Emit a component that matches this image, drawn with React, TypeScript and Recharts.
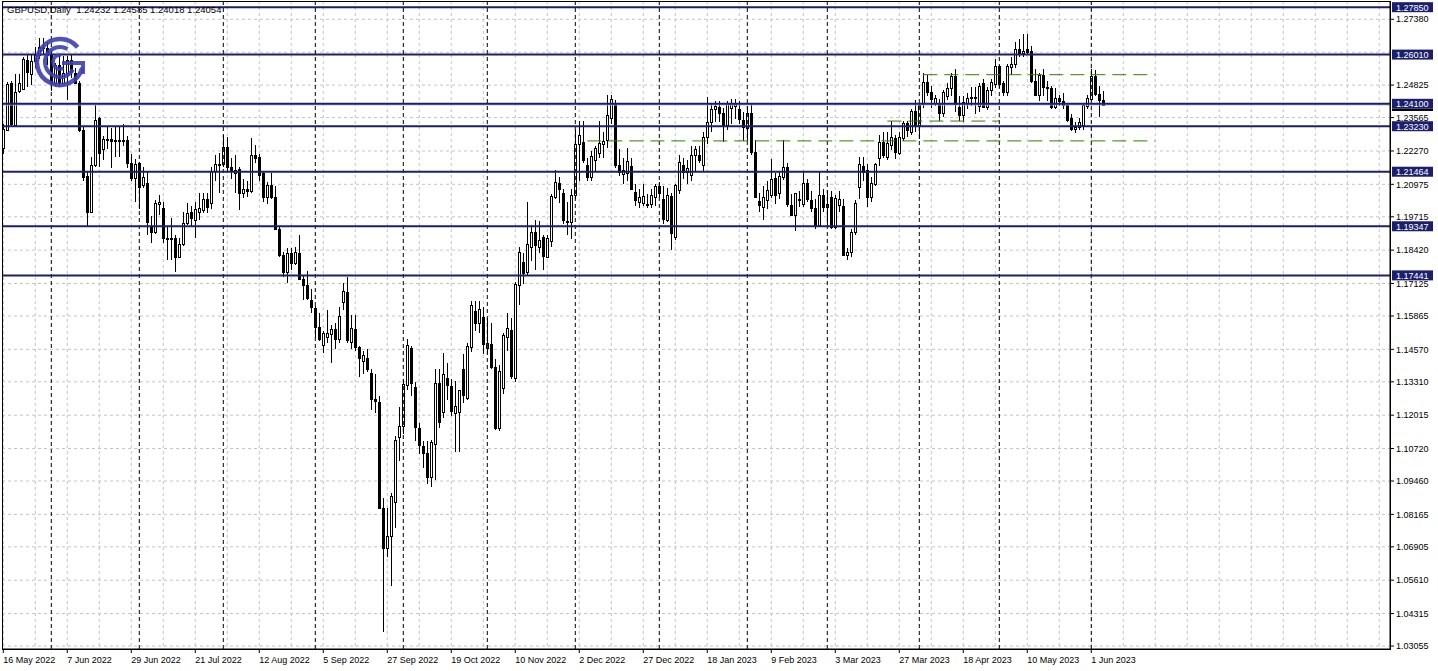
import React from 'react';
import { ComposedChart, Bar, XAxis, YAxis, CartesianGrid, ReferenceLine } from 'recharts';

// daily GBPUSD bars, [open, high, low, close]
const bars: number[][] = [
  [1.2237, 1.2330, 1.2214, 1.2314], [1.2310, 1.2495, 1.2305, 1.2486], [1.2491, 1.2497, 1.2325, 1.2331],
  [1.2327, 1.2527, 1.2320, 1.2456], [1.2459, 1.2527, 1.2450, 1.2491], [1.2469, 1.2592, 1.2465, 1.2585],
  [1.2580, 1.2600, 1.2475, 1.2535], [1.2527, 1.2598, 1.2482, 1.2576], [1.2576, 1.2630, 1.2550, 1.2600],
  [1.2600, 1.2665, 1.2585, 1.2630], [1.2630, 1.2665, 1.2600, 1.2625], [1.2625, 1.2650, 1.2560, 1.2600],
  [1.2600, 1.2610, 1.2460, 1.2490], [1.2490, 1.2570, 1.2480, 1.2560], [1.2560, 1.2600, 1.2475, 1.2490],
  [1.2490, 1.2595, 1.2485, 1.2530], [1.2530, 1.2595, 1.2425, 1.2580], [1.2580, 1.2600, 1.2510, 1.2535],
  [1.2528, 1.2550, 1.2485, 1.2490], [1.2490, 1.2500, 1.2300, 1.2307], [1.2307, 1.2320, 1.2110, 1.2126],
  [1.2129, 1.2145, 1.1931, 1.1990], [1.1990, 1.2205, 1.1985, 1.2172], [1.2172, 1.2404, 1.2165, 1.2349],
  [1.2354, 1.2360, 1.2165, 1.2220], [1.2233, 1.2285, 1.2190, 1.2272], [1.2272, 1.2325, 1.2235, 1.2275],
  [1.2275, 1.2315, 1.2160, 1.2265], [1.2265, 1.2320, 1.2205, 1.2270], [1.2270, 1.2325, 1.2205, 1.2265],
  [1.2265, 1.2330, 1.2245, 1.2270], [1.2269, 1.2285, 1.2160, 1.2180], [1.2180, 1.2215, 1.2110, 1.2121],
  [1.2121, 1.2195, 1.2030, 1.2175], [1.2180, 1.2185, 1.2000, 1.2087], [1.2095, 1.2165, 1.2085, 1.2125],
  [1.2102, 1.2150, 1.1900, 1.1950], [1.1931, 1.1975, 1.1869, 1.1912], [1.1912, 1.2035, 1.1905, 1.2024],
  [1.2020, 1.2055, 1.1980, 1.2030], [1.2005, 1.2030, 1.1870, 1.1888], [1.1888, 1.1935, 1.1805, 1.1890],
  [1.1890, 1.1965, 1.1805, 1.1885], [1.1888, 1.1900, 1.1757, 1.1815], [1.1815, 1.1890, 1.1810, 1.1865],
  [1.1865, 1.1990, 1.1860, 1.1946], [1.1948, 1.2025, 1.1940, 1.1987], [1.1990, 1.2015, 1.1935, 1.1965],
  [1.1960, 1.2030, 1.1890, 1.2000], [1.1990, 1.2065, 1.1960, 1.2005], [1.1997, 1.2065, 1.1985, 1.2040],
  [1.2040, 1.2065, 1.1985, 1.2010], [1.2024, 1.2165, 1.2000, 1.2149], [1.2149, 1.2210, 1.2110, 1.2175],
  [1.2175, 1.2218, 1.2063, 1.2178], [1.2175, 1.2288, 1.2165, 1.2243], [1.2243, 1.2280, 1.2140, 1.2165],
  [1.2165, 1.2200, 1.2120, 1.2149], [1.2140, 1.2210, 1.2065, 1.2155], [1.2156, 1.2165, 1.1997, 1.2064],
  [1.2064, 1.2120, 1.2045, 1.2079], [1.2079, 1.2110, 1.2050, 1.2072], [1.2072, 1.2276, 1.2065, 1.2211],
  [1.2211, 1.2250, 1.2180, 1.2199], [1.2203, 1.2215, 1.2110, 1.2133], [1.2141, 1.2145, 1.2030, 1.2049],
  [1.2049, 1.2105, 1.2020, 1.2094], [1.2094, 1.2140, 1.2040, 1.2049], [1.2049, 1.2090, 1.1920, 1.1926],
  [1.1926, 1.1935, 1.1815, 1.1822], [1.1822, 1.1835, 1.1738, 1.1758], [1.1758, 1.1850, 1.1715, 1.1831],
  [1.1830, 1.1850, 1.1765, 1.1791], [1.1791, 1.1855, 1.1785, 1.1835], [1.1831, 1.1900, 1.1725, 1.1731],
  [1.1731, 1.1745, 1.1650, 1.1706], [1.1706, 1.1760, 1.1650, 1.1656], [1.1648, 1.1690, 1.1600, 1.1622],
  [1.1617, 1.1625, 1.1500, 1.1545], [1.1545, 1.1600, 1.1490, 1.1499], [1.1473, 1.1530, 1.1442, 1.1520],
  [1.1506, 1.1610, 1.1480, 1.1521], [1.1516, 1.1550, 1.1404, 1.1535], [1.1535, 1.1560, 1.1460, 1.1499],
  [1.1496, 1.1620, 1.1480, 1.1586], [1.1640, 1.1714, 1.1610, 1.1683], [1.1678, 1.1738, 1.1480, 1.1492],
  [1.1487, 1.1590, 1.1460, 1.1539], [1.1535, 1.1590, 1.1450, 1.1465], [1.1465, 1.1470, 1.1350, 1.1423],
  [1.1411, 1.1450, 1.1360, 1.1434], [1.1423, 1.1460, 1.1370, 1.1380], [1.1366, 1.1380, 1.1220, 1.1264],
  [1.1264, 1.1360, 1.1210, 1.1257], [1.1253, 1.1275, 1.0840, 1.0841], [1.0840, 1.0880, 1.0359, 1.0685],
  [1.0685, 1.0840, 1.0650, 1.0733], [1.0733, 1.0900, 1.0539, 1.0888], [1.0866, 1.1120, 1.0765, 1.1104],
  [1.1117, 1.1233, 1.1025, 1.1159], [1.1159, 1.1340, 1.1130, 1.1322], [1.1318, 1.1496, 1.1300, 1.1473],
  [1.1463, 1.1470, 1.1275, 1.1327], [1.1310, 1.1330, 1.1100, 1.1156], [1.1151, 1.1170, 1.1050, 1.1085],
  [1.1081, 1.1100, 1.0995, 1.1054], [1.1054, 1.1100, 1.0935, 1.0962], [1.0962, 1.1105, 1.0924, 1.1098],
  [1.1089, 1.1380, 1.0950, 1.1326], [1.1326, 1.1380, 1.1150, 1.1176], [1.1215, 1.1444, 1.1190, 1.1361],
  [1.1346, 1.1405, 1.1260, 1.1318], [1.1313, 1.1340, 1.1200, 1.1219], [1.1209, 1.1335, 1.1060, 1.1236],
  [1.1214, 1.1300, 1.1059, 1.1298], [1.1380, 1.1440, 1.1250, 1.1279], [1.1267, 1.1480, 1.1260, 1.1469],
  [1.1465, 1.1645, 1.1445, 1.1629], [1.1606, 1.1645, 1.1530, 1.1560], [1.1559, 1.1645, 1.1520, 1.1613],
  [1.1583, 1.1620, 1.1440, 1.1477], [1.1462, 1.1580, 1.1440, 1.1481], [1.1477, 1.1560, 1.1380, 1.1388],
  [1.1388, 1.1420, 1.1145, 1.1151], [1.1151, 1.1395, 1.1140, 1.1374], [1.1306, 1.1520, 1.1283, 1.1512],
  [1.1505, 1.1597, 1.1450, 1.1539], [1.1531, 1.1580, 1.1340, 1.1353], [1.1346, 1.1720, 1.1330, 1.1710],
  [1.1706, 1.1855, 1.1630, 1.1835], [1.1797, 1.1830, 1.1710, 1.1752], [1.1757, 1.2029, 1.1740, 1.1865],
  [1.1855, 1.1940, 1.1800, 1.1911], [1.1911, 1.1960, 1.1765, 1.1862], [1.1855, 1.1955, 1.1830, 1.1881],
  [1.1893, 1.1900, 1.1765, 1.1818], [1.1815, 1.1900, 1.1810, 1.1888], [1.1878, 1.2060, 1.1855, 1.2051],
  [1.2049, 1.2155, 1.2040, 1.2107], [1.2103, 1.2125, 1.2025, 1.2079], [1.2063, 1.2080, 1.1945, 1.1958],
  [1.1955, 1.2030, 1.1900, 1.1950], [1.1951, 1.2080, 1.1885, 1.2055], [1.2055, 1.2307, 1.2040, 1.2253],
  [1.2253, 1.2345, 1.2110, 1.2288], [1.2262, 1.2345, 1.2180, 1.2191], [1.2172, 1.2200, 1.2110, 1.2126],
  [1.2126, 1.2225, 1.2110, 1.2206], [1.2191, 1.2245, 1.2150, 1.2238], [1.2219, 1.2345, 1.2200, 1.2257],
  [1.2253, 1.2300, 1.2200, 1.2265], [1.2269, 1.2445, 1.2240, 1.2366], [1.2353, 1.2445, 1.2330, 1.2428],
  [1.2414, 1.2425, 1.2160, 1.2172], [1.2172, 1.2235, 1.2130, 1.2146], [1.2139, 1.2200, 1.2100, 1.2152],
  [1.2141, 1.2240, 1.2110, 1.2187], [1.2168, 1.2200, 1.2080, 1.2081], [1.2068, 1.2100, 1.2015, 1.2036],
  [1.2029, 1.2080, 1.2005, 1.2049], [1.2025, 1.2100, 1.2015, 1.2051], [1.2020, 1.2060, 1.2005, 1.2017],
  [1.2023, 1.2080, 1.2005, 1.2055], [1.2049, 1.2100, 1.2015, 1.2090], [1.2090, 1.2105, 1.2050, 1.2065],
  [1.2040, 1.2090, 1.1945, 1.1962], [1.1958, 1.2085, 1.1950, 1.2055], [1.2051, 1.2065, 1.1842, 1.1908],
  [1.1893, 1.2100, 1.1880, 1.2094], [1.2075, 1.2210, 1.2060, 1.2184], [1.2172, 1.2200, 1.2120, 1.2146],
  [1.2146, 1.2190, 1.2100, 1.2160], [1.2133, 1.2245, 1.2110, 1.2211], [1.2211, 1.2245, 1.2150, 1.2234],
  [1.2211, 1.2245, 1.2180, 1.2191], [1.2172, 1.2300, 1.2150, 1.2281], [1.2281, 1.2435, 1.2255, 1.2339],
  [1.2339, 1.2410, 1.2300, 1.2389], [1.2389, 1.2420, 1.2340, 1.2400], [1.2397, 1.2420, 1.2340, 1.2374],
  [1.2374, 1.2395, 1.2260, 1.2327], [1.2327, 1.2420, 1.2310, 1.2412], [1.2392, 1.2430, 1.2330, 1.2414],
  [1.2400, 1.2430, 1.2350, 1.2410], [1.2389, 1.2420, 1.2330, 1.2350], [1.2346, 1.2380, 1.2265, 1.2320],
  [1.2315, 1.2400, 1.2265, 1.2373], [1.2373, 1.2415, 1.2210, 1.2223], [1.2223, 1.2270, 1.2045, 1.2047],
  [1.2033, 1.2065, 1.1990, 1.2017], [1.2010, 1.2090, 1.1960, 1.2049], [1.2036, 1.2110, 1.2000, 1.2075],
  [1.2055, 1.2195, 1.2045, 1.2117], [1.2121, 1.2140, 1.2020, 1.2055], [1.2064, 1.2145, 1.2040, 1.2129],
  [1.2125, 1.2269, 1.2115, 1.2164], [1.2164, 1.2180, 1.2010, 1.2020], [1.2017, 1.2060, 1.1975, 1.1978],
  [1.1978, 1.2065, 1.1915, 1.2063], [1.2040, 1.2070, 1.2010, 1.2036], [1.2023, 1.2145, 1.2010, 1.2103],
  [1.2103, 1.2120, 1.2030, 1.2040], [1.2036, 1.2070, 1.1990, 1.2005], [1.2005, 1.2040, 1.1925, 1.1939],
  [1.1939, 1.2145, 1.1935, 1.2055], [1.2055, 1.2080, 1.1990, 1.2009], [1.2009, 1.2075, 1.1932, 1.2020],
  [1.2049, 1.2070, 1.1925, 1.1932], [1.1932, 1.2055, 1.1925, 1.2044], [1.2017, 1.2070, 1.1990, 1.2040],
  [1.2013, 1.2040, 1.1818, 1.1822], [1.1822, 1.1850, 1.1803, 1.1835], [1.1835, 1.1925, 1.1815, 1.1913],
  [1.1913, 1.2035, 1.1900, 1.2025], [1.2086, 1.2205, 1.2040, 1.2175], [1.2168, 1.2205, 1.2110, 1.2146],
  [1.2152, 1.2175, 1.2010, 1.2049], [1.2049, 1.2125, 1.2030, 1.2102], [1.2098, 1.2180, 1.2090, 1.2175],
  [1.2198, 1.2290, 1.2170, 1.2262], [1.2262, 1.2300, 1.2200, 1.2211], [1.2204, 1.2300, 1.2190, 1.2258],
  [1.2249, 1.2345, 1.2230, 1.2280], [1.2276, 1.2290, 1.2195, 1.2223], [1.2218, 1.2300, 1.2210, 1.2280],
  [1.2276, 1.2345, 1.2265, 1.2335], [1.2335, 1.2345, 1.2280, 1.2310], [1.2300, 1.2390, 1.2290, 1.2381],
  [1.2381, 1.2425, 1.2300, 1.2327], [1.2327, 1.2410, 1.2275, 1.2404], [1.2412, 1.2528, 1.2395, 1.2495],
  [1.2495, 1.2520, 1.2440, 1.2456], [1.2456, 1.2480, 1.2395, 1.2430], [1.2412, 1.2445, 1.2400, 1.2431],
  [1.2414, 1.2430, 1.2345, 1.2375], [1.2375, 1.2465, 1.2360, 1.2456], [1.2440, 1.2490, 1.2425, 1.2470],
  [1.2473, 1.2528, 1.2440, 1.2517], [1.2517, 1.2545, 1.2380, 1.2408], [1.2398, 1.2440, 1.2345, 1.2366],
  [1.2366, 1.2440, 1.2340, 1.2417], [1.2414, 1.2450, 1.2390, 1.2431], [1.2431, 1.2475, 1.2400, 1.2435],
  [1.2437, 1.2475, 1.2370, 1.2433], [1.2400, 1.2490, 1.2380, 1.2478], [1.2490, 1.2505, 1.2395, 1.2398],
  [1.2398, 1.2475, 1.2385, 1.2463], [1.2463, 1.2505, 1.2440, 1.2495], [1.2488, 1.2583, 1.2470, 1.2555],
  [1.2555, 1.2560, 1.2470, 1.2488], [1.2491, 1.2500, 1.2440, 1.2456], [1.2456, 1.2565, 1.2440, 1.2555],
  [1.2551, 1.2590, 1.2520, 1.2566], [1.2566, 1.2650, 1.2550, 1.2624], [1.2622, 1.2660, 1.2590, 1.2607],
  [1.2607, 1.2680, 1.2590, 1.2615], [1.2622, 1.2680, 1.2600, 1.2612], [1.2615, 1.2635, 1.2490, 1.2500],
  [1.2500, 1.2545, 1.2440, 1.2443], [1.2443, 1.2530, 1.2420, 1.2521], [1.2521, 1.2545, 1.2440, 1.2475],
  [1.2475, 1.2500, 1.2420, 1.2470], [1.2470, 1.2480, 1.2390, 1.2398], [1.2398, 1.2470, 1.2390, 1.2431],
  [1.2431, 1.2445, 1.2400, 1.2420], [1.2420, 1.2450, 1.2390, 1.2404], [1.2404, 1.2410, 1.2340, 1.2349],
  [1.2354, 1.2370, 1.2305, 1.2311], [1.2311, 1.2340, 1.2295, 1.2320], [1.2320, 1.2355, 1.2310, 1.2340],
  [1.2327, 1.2410, 1.2310, 1.2404], [1.2400, 1.2445, 1.2390, 1.2431], [1.2428, 1.2545, 1.2420, 1.2517],
  [1.2517, 1.2540, 1.2440, 1.2447], [1.2447, 1.2480, 1.2359, 1.2424], [1.24232, 1.24585, 1.24018, 1.24054],
];

// date labels, one every 16 bars
const dateLabels = [
  '16 May 2022', '7 Jun 2022', '29 Jun 2022', '21 Jul 2022', '12 Aug 2022', '5 Sep 2022',
  '27 Sep 2022', '19 Oct 2022', '10 Nov 2022', '2 Dec 2022', '27 Dec 2022', '18 Jan 2023',
  '9 Feb 2023', '3 Mar 2023', '27 Mar 2023', '18 Apr 2023', '10 May 2023', '1 Jun 2023',
];
// bar index of first bar of each month (period separators)
const monthStarts = [12, 34, 55, 78, 100, 121, 143, 164, 186, 206, 229, 249, 272];

const priceTicks = [
  1.2738, 1.24825, 1.23565, 1.2227, 1.20975, 1.19715, 1.1842, 1.17125, 1.15865, 1.1457,
  1.1331, 1.12015, 1.1072, 1.0946, 1.08165, 1.06905, 1.0561, 1.04315, 1.03055,
];
const gridPrices = [...priceTicks, 1.261];
const levels = [1.2785, 1.2601, 1.241, 1.2323, 1.21464, 1.19347, 1.17441];
const lastClose = 1.24054;

// dashed trend lines: [fromBar, toBar, price]
const trendLines = [
  [146, 288, 1.2266],
  [230, 288, 1.2523],
  [221, 249, 1.2343],
];

const TOTAL_SLOTS = 347;
const NAVY = '#1b1f6e';
const FONT = '"Liberation Sans", Arial, sans-serif';

const data = bars.map(([o, h, l, c], i) => ({ i, o, h, l, c, range: [l, h] }));
const labelIdx = dateLabels.map((_, k) => k * 16);
const gridIdx: number[] = [];
for (let k = 0; k * 8 < TOTAL_SLOTS; k++) gridIdx.push(k * 8);

const Candle = (props: any) => {
  const { x, y, width, height, payload } = props;
  if (!payload) return null;
  const { o, h, l, c } = payload;
  const top = Math.min(y, y + height);
  const span = Math.abs(height);
  const py = (v: number) => (h === l ? top : top + ((h - v) / (h - l)) * span);
  const cx = Math.round(x + width / 2);
  const yo = py(o);
  const yc = py(c);
  const bTop = Math.round(Math.min(yo, yc));
  const bBot = Math.round(Math.max(yo, yc));
  const bh = Math.max(bBot - bTop, 1);
  return (
    <g>
      <line x1={cx + 0.5} x2={cx + 0.5} y1={Math.round(top)} y2={Math.round(top + span)} stroke="#000" strokeWidth={1} />
      {c >= o ? (
        <rect x={cx - 0.5} y={bTop + 0.5} width={2} height={bh} fill="#fff" stroke="#000" strokeWidth={1} />
      ) : (
        <rect x={cx - 1} y={bTop} width={3} height={bh + 1} fill="#000" />
      )}
    </g>
  );
};

const XTick = (props: any) => {
  const { x, y, payload } = props;
  const label = dateLabels[Math.round(payload.value / 16)];
  if (!label) return null;
  return (
    <text x={x} y={y + 8} fontSize={9} fontFamily={FONT} fill="#000" textAnchor="start">
      {label}
    </text>
  );
};

const LevelTag = (props: any) => {
  const { viewBox, text } = props;
  if (!viewBox) return null;
  const x0 = viewBox.x + viewBox.width + 2;
  const y0 = viewBox.y;
  return (
    <g>
      <rect x={x0} y={y0 - 5} width={41} height={10} fill={NAVY} />
      <text x={x0 + 4} y={y0 + 3.5} fontSize={9} fontFamily={FONT} fill="#fff">
        {text}
      </text>
    </g>
  );
};

const BidTag = (props: any) => {
  const { viewBox } = props;
  if (!viewBox) return null;
  const x0 = viewBox.x + viewBox.width + 2;
  return <rect x={x0} y={viewBox.y + 4} width={41} height={2} fill="#000" />;
};

const arc = (cx: number, cy: number, r: number, a0: number, a1: number) => {
  const rad = (a: number) => (a * Math.PI) / 180;
  const x0 = cx + r * Math.cos(rad(a0));
  const y0 = cy - r * Math.sin(rad(a0));
  const x1 = cx + r * Math.cos(rad(a1));
  const y1 = cy - r * Math.sin(rad(a1));
  const large = a1 - a0 > 180 ? 1 : 0;
  return `M ${x0} ${y0} A ${r} ${r} 0 ${large} 0 ${x1} ${y1}`;
};

const Logo = () => (
  <svg width={70} height={70} style={{ position: 'absolute', left: 25, top: 27, pointerEvents: 'none' }}>
    <g fill="none" stroke="#3a3fb5" strokeOpacity={0.9}>
      <path d={arc(35, 35, 23, 40, 345)} strokeWidth={4.5} />
      <path d={arc(35, 35, 15, 60, 330)} strokeWidth={4} />
      <path d={arc(35, 35, 7, 80, 300)} strokeWidth={3.5} />
      <path d="M 37 36 L 58 36 L 58 47" strokeWidth={4} />
    </g>
  </svg>
);

const App = () => (
  <div style={{ position: 'absolute', left: 0, top: 0, width: 1438, height: 671, background: '#fff' }}>
    <ComposedChart
      width={1438}
      height={671}
      data={data}
      margin={{ top: 1, right: 0, left: 2, bottom: 0 }}
      style={{ fontFamily: FONT }}
    >
      <CartesianGrid
        stroke="#c4c4c4"
        strokeDasharray="3 3"
        horizontalValues={gridPrices}
        verticalValues={gridIdx}
      />
      <XAxis
        type="number"
        dataKey="i"
        domain={[-0.325, TOTAL_SLOTS - 0.325]}
        allowDataOverflow
        ticks={labelIdx}
        interval={0}
        tick={<XTick />}
        tickSize={4}
        tickLine={{ stroke: '#000' }}
        axisLine={{ stroke: '#000' }}
        height={22}
      />
      <YAxis
        orientation="right"
        type="number"
        domain={[1.0294, 1.2809]}
        allowDataOverflow
        ticks={priceTicks}
        interval={0}
        width={48}
        tickSize={4}
        tickMargin={2}
        tickLine={{ stroke: '#000' }}
        axisLine={{ stroke: '#000' }}
        tick={{ fontSize: 9, fill: '#000', fontFamily: FONT }}
        tickFormatter={(v: number) => v.toFixed(5)}
      />
      {monthStarts.map((m) => (
        <ReferenceLine key={'m' + m} x={m} stroke="#000" strokeDasharray="4 3" />
      ))}
      <ReferenceLine y={lastClose} stroke="#b8bcd0" strokeWidth={1} label={<BidTag />} />
      <Bar dataKey="range" shape={<Candle />} barSize={3} isAnimationActive={false} />
      {trendLines.map(([a, b, p], k) => (
        <ReferenceLine
          key={'t' + k}
          segment={[{ x: a, y: p }, { x: b, y: p }]}
          stroke="#2f7f00"
          strokeDasharray="14 7"
          ifOverflow="visible"
        />
      ))}
      {levels.map((v) => (
        <ReferenceLine
          key={'l' + v}
          y={v}
          stroke={NAVY}
          strokeWidth={2}
          label={<LevelTag text={v.toFixed(5)} />}
        />
      ))}
    </ComposedChart>
    <div
      style={{
        position: 'absolute',
        left: 2,
        top: 1,
        width: 1387,
        height: 647,
        border: '1px solid #000',
        pointerEvents: 'none',
      }}
    />
    <div
      style={{
        position: 'absolute',
        left: 7,
        top: 5,
        fontSize: 9.5,
        fontFamily: FONT,
        whiteSpace: 'pre',
        lineHeight: '10px',
      }}
    >
      {'GBPUSD,Daily  1.24232 1.24585 1.24018 1.24054'}
    </div>
    <Logo />
  </div>
);

export default App;
